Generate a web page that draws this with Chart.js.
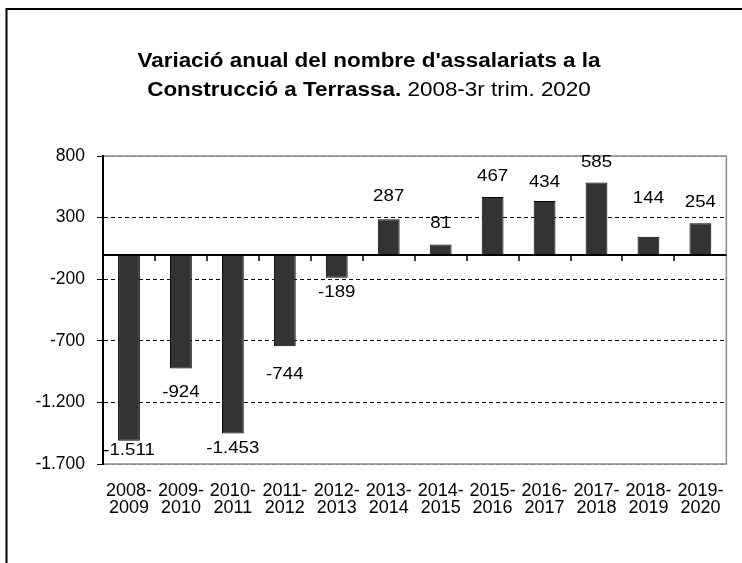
<!DOCTYPE html>
<html>
<head>
<meta charset="utf-8">
<script src="https://cdn.jsdelivr.net/npm/chart.js@4.4.1/dist/chart.umd.min.js"></script>
<style>
  html, body { margin: 0; padding: 0; background: #fff; }
  canvas { display: block; }
</style>
</head>
<body>
<canvas id="myChart" width="742" height="563"></canvas>
<script>
const periods = [
    ['2008-', '2009'], ['2009-', '2010'], ['2010-', '2011'], ['2011-', '2012'],
    ['2012-', '2013'], ['2013-', '2014'], ['2014-', '2015'], ['2015-', '2016'],
    ['2016-', '2017'], ['2017-', '2018'], ['2018-', '2019'], ['2019-', '2020']
]
const variacio = [-1511, -924, -1453, -744, -189, 287, 81, 467, 434, 585, 144, 254]
const yTicks = [-1700, -1200, -700, -200, 300, 800]

const titleBold1 = "Variació anual del nombre d'assalariats a la"
const titleBold2 = 'Construcció a Terrassa.'
const titleNormal2 = ' 2008-3r trim. 2020'

const FONT = '"Liberation Sans", Arial, sans-serif'
const STRETCH = 1.1   // the original text is a little wider than Arial

// distance between bar end and label centre, as placed in the original
const labelShift = [10, 24, 15, 28, 14, 23, 21, 21, 19, 20, 39, 21]

function fmt(v) {
    const s = Math.abs(v).toString().replace(/\B(?=(\d{3})+(?!\d))/g, '.')
    return (v < 0 ? '-' : '') + s
}

const frameAndTitle = {
    id: 'frameAndTitle',
    beforeDraw(chart) {
        const c = chart.ctx
        c.save()
        c.fillStyle = '#fff'
        c.fillRect(0, 0, chart.width, chart.height)
        c.strokeStyle = '#000'
        c.lineWidth = 2
        c.strokeRect(6.5, 9, 800, 600)
        // plot area border
        const a = chart.chartArea
        c.strokeStyle = '#888'
        c.lineWidth = 1.5
        c.strokeRect(a.left, a.top, a.right - a.left, a.bottom - a.top)
        c.restore()
    },
    afterDraw(chart) {
        const c = chart.ctx
        const cx = 369
        const bold = 'bold 20px ' + FONT
        const normal = '20px ' + FONT
        c.save()
        c.fillStyle = '#000'
        c.textBaseline = 'middle'
        c.textAlign = 'left'

        c.save()
        c.translate(cx, 61)
        c.scale(STRETCH * 1.02, 1)
        c.font = bold
        let w = c.measureText(titleBold1).width
        c.fillText(titleBold1, -w / 2, 0)
        c.restore()

        c.save()
        c.translate(cx, 90)
        c.scale(STRETCH * 1.02, 1)
        c.font = bold
        const wb = c.measureText(titleBold2).width
        c.font = normal
        const wn = c.measureText(titleNormal2).width
        const x = -(wb + wn) / 2
        c.font = bold
        c.fillText(titleBold2, x, 0)
        c.font = normal
        c.fillText(titleNormal2, x + wb, 0)
        c.restore()

        c.restore()
    }
}

const zeroAxis = {
    id: 'zeroAxis',
    afterDatasetsDraw(chart) {
        const c = chart.ctx
        const a = chart.chartArea
        const y0 = Math.round(chart.scales.y.getPixelForValue(0))
        const xs = chart.scales.x
        c.save()
        c.strokeStyle = '#000'
        c.lineWidth = 2
        c.beginPath()
        c.moveTo(a.left, y0)
        c.lineTo(a.right, y0)
        c.stroke()
        c.lineWidth = 1.5
        c.beginPath()
        for (let i = 1; i < periods.length; i++) {
            const x = Math.round((xs.getPixelForValue(i - 1) + xs.getPixelForValue(i)) / 2)
            c.moveTo(x, y0)
            c.lineTo(x, y0 + 6)
        }
        c.stroke()

        // value labels
        const meta = chart.getDatasetMeta(0)
        c.fillStyle = '#000'
        c.font = '17px ' + FONT
        c.textAlign = 'center'
        c.textBaseline = 'middle'
        meta.data.forEach((bar, i) => {
            const v = variacio[i]
            const y = v < 0 ? bar.y + labelShift[i] : bar.y - labelShift[i]
            c.save()
            c.translate(bar.x, y)
            c.scale(STRETCH, 1)
            c.fillText(fmt(v), 0, 0)
            c.restore()
        })
        c.restore()
    }
}

const ctx = document.getElementById('myChart')

new Chart(ctx, {
    type: 'bar',
    data: {
        labels: periods,
        datasets: [{
            label: 'Variació',
            data: variacio,
            backgroundColor: '#333333',
            borderColor: '#000000',
            borderWidth: 1,
            barPercentage: 0.42,
            categoryPercentage: 1
        }]
    },
    options: {
        responsive: false,
        animation: false,
        layout: {
            padding: { top: 156, right: 14, bottom: 0, left: 0 }
        },
        plugins: {
            legend: { display: false },
            title: { display: false },
            tooltip: { enabled: false }
        },
        scales: {
            x: {
                grid: { display: false, drawTicks: false },
                border: { display: false },
                ticks: {
                    color: '#000',
                    font: { family: FONT, size: 18, lineHeight: 0.95 },
                    padding: 18,
                    maxRotation: 0,
                    autoSkip: false
                },
                afterFit(scale) { scale.height = 99 }
            },
            y: {
                min: -1700,
                max: 800,
                afterBuildTicks(scale) {
                    scale.ticks = yTicks.map(v => ({ value: v }))
                },
                grid: {
                    color: ctx => (ctx.tick && (ctx.tick.value === 800 || ctx.tick.value === -1700)) ? '#888' : '#000',
                    lineWidth: 1,
                    tickLength: 6,
                    tickColor: '#000'
                },
                border: { display: true, color: '#000', width: 2, dash: [4, 3] },
                ticks: {
                    color: '#000',
                    font: { family: FONT, size: 17.5 },
                    padding: 12,
                    callback: v => fmt(v)
                },
                afterFit(scale) { scale.width = 103 }
            }
        }
    },
    plugins: [frameAndTitle, zeroAxis]
});
</script>
</body>
</html>
